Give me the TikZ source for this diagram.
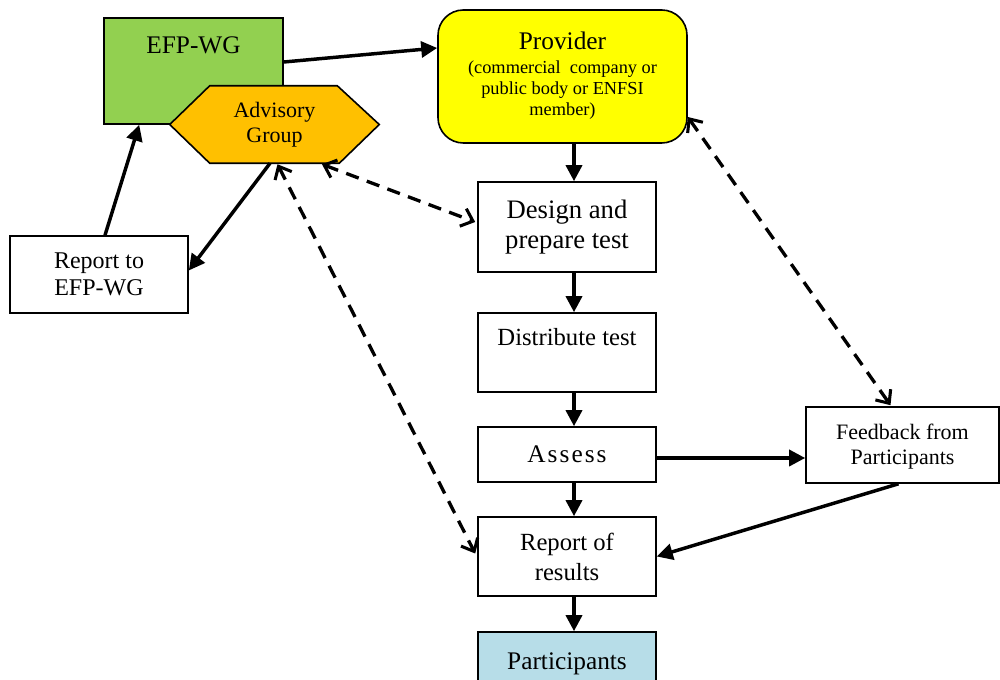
\documentclass[tikz,border=0pt]{standalone}
\usepackage{fontspec}
\setmainfont{Liberation Serif}
\usetikzlibrary{arrows.meta,calc}
\definecolor{efpgreen}{HTML}{92D050}
\definecolor{advorange}{HTML}{FFC000}
\definecolor{provyellow}{HTML}{FFFF00}
\definecolor{partblue}{HTML}{B7DDE8}
\begin{document}
\begin{tikzpicture}[x=0.75pt,y=-0.75pt,
  box/.style={draw=black,line width=1.2pt,inner sep=0pt,minimum width=133.5pt},
  txt/.style={inner sep=0pt,align=center},
  big/.style={font=\fontsize{18.5}{22.5}\selectfont},
  arr/.style={line width=2.6pt,-{Triangle[length=12pt,width=12pt]}},
  darr/.style={line width=2.5pt,dash pattern=on 10pt off 6.5pt,
    {Straight Barb[length=8pt,width=14pt,line width=2.3pt]}-{Straight Barb[length=8pt,width=14pt,line width=2.3pt]}}
]
\useasboundingbox (0,0) rectangle (1000,680);

% EFP-WG box
\node[box,fill=efpgreen,minimum width=134.25pt,minimum height=79.5pt] (efp) at (193.5,71) {};
\node[txt,anchor=base,font=\fontsize{19}{23}\selectfont] (efpt) at (193.5,54) {EFP-WG};

% Advisory group hexagon
\node[inner sep=0pt,minimum width=156.75pt,minimum height=57.75pt] (adv) at (274.5,124.5) {};
\draw[fill=advorange,line width=1.2pt] (adv.west) -- ($(adv.north west)+(40,0)$) -- ($(adv.north east)+(-42,0)$)
  -- (adv.east) -- ($(adv.south east)+(-40,0)$) -- ($(adv.south west)+(40,0)$) -- cycle;
\node[txt,font=\fontsize{16.5}{19}\selectfont] (advt) at (274.5,124.5) {Advisory\\Group};

% Provider
\node[box,fill=provyellow,minimum width=186.75pt,minimum height=99.75pt,rounded corners=19pt] (prov) at (562.5,76.5) {};
\node[txt,anchor=base,font=\fontsize{19}{23}\selectfont] (provt) at (562.5,50) {Provider};
\node[txt,font=\fontsize{13.75}{15.75}\selectfont] (provs) at (562.5,90) {(commercial\ \ company or\\public body or ENFSI\\member)};

% Main column
\node[box,minimum height=67.5pt] (des) at (567,227) {};
\node[txt,font=\fontsize{20}{22.5}\selectfont] (dest) at (567,227.3) {Design and\\prepare test};
\node[box,minimum height=59.25pt] (dist) at (567,352.5) {};
\node[txt,big,anchor=base] (distt) at (567,346) {Distribute test};
\node[box,minimum height=41.25pt] (ass) at (567,454.5) {};
\node[txt,anchor=base,font=\fontsize{19}{23}\selectfont\addfontfeatures{LetterSpace=8}] (asst) at (567,463) {Assess};
\node[box,minimum height=59.25pt] (ror) at (567,556.5) {};
\node[txt,big] (rort) at (567,556.8) {Report of\\results};
\node[box,fill=partblue,minimum height=43.5pt] (part) at (567,661) {};
\node[txt,anchor=base,font=\fontsize{19}{23}\selectfont] (partt) at (567,669) {Participants};

% Side boxes
\node[box,minimum height=57.75pt] (rep) at (99,274.5) {};
\node[txt,font=\fontsize{18}{20.25}\selectfont] (rept) at (99,274) {Report to\\EFP-WG};
\node[box,minimum width=144.75pt,minimum height=57pt] (fb) at (902.5,445) {};
\node[txt,font=\fontsize{16.5}{18.75}\selectfont] (fbt) at (902.5,446.8) {Feedback from\\Participants};

% Solid connectors
\coordinate (ax) at ($(des.north)+(7,0)$);
\draw[arr] (ax |- prov.south) -- (ax |- des.north);
\draw[arr] (ax |- des.south) -- (ax |- dist.north);
\draw[arr] (ax |- dist.south) -- (ax |- ass.north);
\draw[arr] (ax |- ass.south) -- (ax |- ror.north);
\draw[arr] (ax |- ror.south) -- (ax |- part.north);
\draw[arr] ($(efp.east)+(0,-9)$) -- ($(prov.west)+(0,-28.5)$);
\coordinate (ay) at ($(ass.east)+(0,3.5)$);
\draw[arr] (ay) -- (ay -| fb.west);
\draw[arr] ($(fb.south)+(-4,0)$) -- (ror.east);
\draw[arr] ($(rep.north)+(6,0)$) -- ($(efp.south west)+(36,0)$);
\draw[arr] ($(adv.south)+(-4.5,0)$) -- ($(rep.east)+(0,-4)$);

% Dashed connectors
\draw[darr] ($(adv.south)+(47.5,1)$) -- ($(des.west)+(-2,-5)$);
\draw[darr] ($(adv.south)+(3,1)$) -- ($(ror.west)+(-2,-3)$);
\draw[darr] ($(prov.east)+(0,40.5)$) -- ($(fb.north)+(-12,-1)$);
\end{tikzpicture}
\end{document}
